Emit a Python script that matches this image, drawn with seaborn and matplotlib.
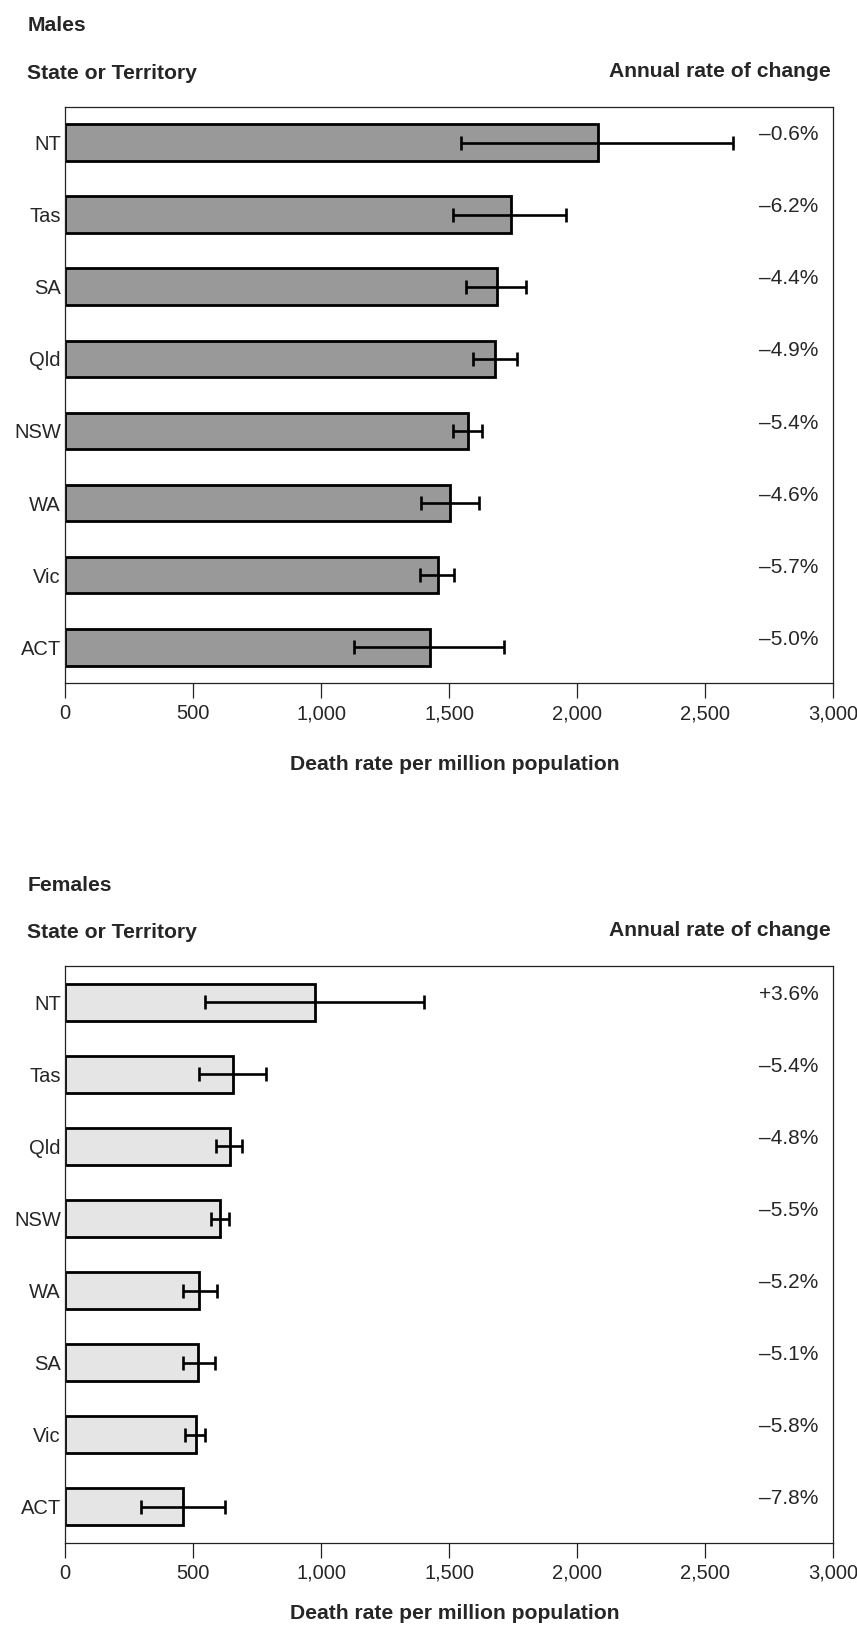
import matplotlib
matplotlib.use("Agg")
import matplotlib.pyplot as plt
import matplotlib.transforms as mtransforms
import numpy as np
import pandas as pd
import seaborn as sns

# Males, ordered as in the chart
male_states = ["NT", "Tas", "SA", "Qld", "NSW", "WA", "Vic", "ACT"]
male_rate = [2080, 1740, 1685, 1680, 1575, 1505, 1455, 1425]
male_low = [1545, 1515, 1565, 1595, 1515, 1390, 1385, 1130]
male_high = [2610, 1955, 1800, 1765, 1630, 1615, 1520, 1715]
male_change = ["–0.6%", "–6.2%", "–4.4%", "–4.9%", "–5.4%", "–4.6%", "–5.7%", "–5.0%"]

# Females
female_states = ["NT", "Tas", "Qld", "NSW", "WA", "SA", "Vic", "ACT"]
female_rate = [975, 655, 645, 605, 525, 520, 510, 460]
female_low = [545, 525, 590, 570, 460, 460, 470, 295]
female_high = [1400, 785, 690, 640, 595, 585, 545, 625]
female_change = ["+3.6%", "–5.4%", "–4.8%", "–5.5%", "–5.2%", "–5.1%", "–5.8%", "–7.8%"]

x_ticks = [0, 500, 1000, 1500, 2000, 2500, 3000]

W, H = 857, 1627

sns.set_theme(style="white")
plt.rcParams["font.family"] = ["Liberation Sans", "DejaVu Sans"]


def fy(px):
    """pixel row (from top) -> figure fraction"""
    return 1 - px / H


def draw_panel(fig, top_px, title, states, rate, low, high, change, colour, xlab_off):
    left, right = 65, 833.3
    height = 576.5
    ax = fig.add_axes([left / W, fy(top_px + height), (right - left) / W, height / H])

    df = pd.DataFrame({"state": states, "rate": rate})
    sns.barplot(data=df, x="rate", y="state", orient="h", color=colour,
                saturation=1, edgecolor="black", linewidth=2.0, width=0.51, ax=ax)

    rate = np.array(rate)
    pos = np.arange(len(states))
    ax.errorbar(rate, pos, xerr=[rate - np.array(low), np.array(high) - rate],
                fmt="none", ecolor="black", elinewidth=1.9, capsize=4.8, capthick=1.9)

    trans = mtransforms.blended_transform_factory(ax.transAxes, ax.transData)
    for i, s in enumerate(change):
        ax.text(0.981, i - 0.11, s, transform=trans, ha="right", va="center", fontsize=15)

    ax.set_xlim(0, 3000)
    ax.set_ylim(len(states) - 0.5, -0.5)
    ax.set_xticks(x_ticks)
    ax.set_xticklabels([f"{t:,}" for t in x_ticks], fontsize=14.5)
    ax.tick_params(axis="x", length=11, width=0.9, color="#222222", pad=4, bottom=True)
    ax.tick_params(axis="y", length=0, labelsize=14.5, pad=3)
    ax.set_xlabel("")
    ax.set_ylabel("")
    for sp in ax.spines.values():
        sp.set_visible(True)
        sp.set_linewidth(0.9)
        sp.set_color("#222222")

    # header texts
    fig.text(27.3 / W, fy(top_px - 75.5), title, fontsize=15.2, fontweight="bold",
             ha="left", va="baseline")
    fig.text(27.3 / W, fy(top_px - 28), "State or Territory", fontsize=15.2,
             fontweight="bold", ha="left", va="baseline")
    fig.text(831 / W, fy(top_px - 30), "Annual rate of change", fontsize=15.2,
             fontweight="bold", ha="right", va="baseline")
    fig.text(455 / W, fy(top_px + xlab_off), "Death rate per million population",
             fontsize=15.2, fontweight="bold", ha="center", va="baseline")
    return ax


fig = plt.figure(figsize=(W / 100, H / 100), dpi=100)
draw_panel(fig, 106.7, "Males", male_states, male_rate, male_low, male_high,
           male_change, "#999999", 663)
draw_panel(fig, 966.3, "Females", female_states, female_rate, female_low, female_high,
           female_change, "#e5e5e5", 653)

fig.savefig("out.png", dpi=100)
